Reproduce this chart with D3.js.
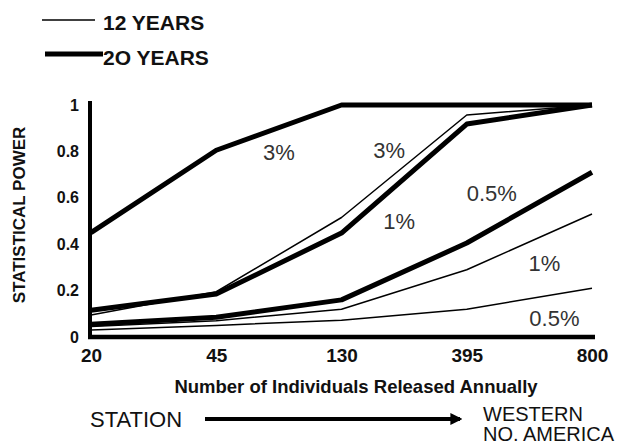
<!DOCTYPE html>
<html>
<head>
<meta charset="utf-8">
<script src="https://cdn.jsdelivr.net/npm/d3@7"></script>
<style>
	body{margin:0;background:#fff;}
	svg{display:block;font-family:"Liberation Sans", Arial, sans-serif;}
	.tick-x text{font-size:19px;font-weight:bold;fill:#111;}
	.tick-y text{font-size:16px;font-weight:bold;fill:#111;}
	.pct{font-size:22px;fill:#333;}
</style>
</head>
<body>
<svg id="chart" width="634" height="445"></svg>
<script>
// released per year (categorical axis)
var categories = ['20', '45', '130', '395', '800'];
var yTicks = [0, 0.2, 0.4, 0.6, 0.8, 1];

// statistical power
var twenty3  = [0.45, 0.805, 1, 1, 1];
var twenty1  = [0.115, 0.185, 0.448, 0.918, 1];
var twenty05 = [0.055, 0.085, 0.16, 0.405, 0.71];
var twelve3  = [0.095, 0.195, 0.515, 0.957, 1];
var twelve1  = [0.045, 0.07, 0.12, 0.29, 0.53];
var twelve05 = [0.03, 0.05, 0.072, 0.12, 0.21];

var seriesList = [
	{name:'12y-3',  values: twelve3,  thick:false},
	{name:'12y-1',  values: twelve1,  thick:false},
	{name:'12y-05', values: twelve05, thick:false},
	{name:'20y-3',  values: twenty3,  thick:true},
	{name:'20y-1',  values: twenty1,  thick:true},
	{name:'20y-05', values: twenty05, thick:true}
];

// labels beside the curves: [category index, value, text]
var curveLabels = [
	[1.5, 0.795, '3%'],
	[2.38, 0.805, '3%'],
	[2.46, 0.5, '1%'],
	[3.2, 0.62, '0.5%'],
	[3.62, 0.32, '1%'],
	[3.7, 0.08, '0.5%']
];

var svg = d3.select('#chart');
var x = d3.scalePoint().domain(categories).range([91, 592]);
var y = d3.scaleLinear().domain([0, 1]).range([337, 105]);

// x tick labels
var gx = svg.append('g')
	.attr('class', 'tick-x')
	.attr('transform', 'translate(0,337)')
	.call(d3.axisBottom(x).tickSize(0).tickPadding(12));
gx.select('.domain').remove();

// y tick labels
var gy = svg.append('g')
	.attr('class', 'tick-y')
	.attr('transform', 'translate(90,0)')
	.call(d3.axisLeft(y).tickValues(yTicks).tickFormat(d3.format('~g')).tickSize(0).tickPadding(11));
gy.select('.domain').remove();

// curves
var line = d3.line()
	.x(function(d, i){ return x(categories[i]); })
	.y(function(d){ return y(d); });

svg.selectAll('.curve')
	.data(seriesList)
	.enter()
	.append('path')
	.attr('class', 'curve')
	.attr('d', function(d){ return line(d.values); })
	.attr('fill', 'none')
	.attr('stroke', '#000')
	.attr('stroke-linejoin', 'round')
	.attr('stroke-width', function(d){ return d.thick ? 5 : 1.5; });

// axis lines
svg.append('line')
	.attr('x1', 90).attr('x2', 90)
	.attr('y1', y(1) - 4).attr('y2', y(0) + 2)
	.attr('stroke', '#000').attr('stroke-width', 4);
svg.append('line')
	.attr('x1', 88).attr('x2', x('800') + 3)
	.attr('y1', y(0)).attr('y2', y(0))
	.attr('stroke', '#000').attr('stroke-width', 4.5);

// curve labels
var xIdx = d3.scaleLinear().domain([0, categories.length - 1]).range(x.range());
svg.selectAll('.pct')
	.data(curveLabels)
	.enter()
	.append('text')
	.attr('class', 'pct')
	.attr('x', function(d){ return xIdx(d[0]); })
	.attr('y', function(d){ return y(d[1]); })
	.attr('text-anchor', 'middle')
	.attr('dy', '0.36em')
	.text(function(d){ return d[2]; });

// legend
svg.append('line')
	.attr('x1', 42).attr('x2', 95).attr('y1', 20).attr('y2', 20)
	.attr('stroke', '#000').attr('stroke-width', 1.5);
svg.append('text')
	.attr('x', 103).attr('y', 30)
	.style('font-size', '21px').style('font-weight', 'bold').attr('fill', '#111')
	.text('12 YEARS');
svg.append('line')
	.attr('x1', 45).attr('x2', 103).attr('y1', 54).attr('y2', 54)
	.attr('stroke', '#000').attr('stroke-width', 5);
svg.append('text')
	.attr('x', 103).attr('y', 65)
	.style('font-size', '21px').style('font-weight', 'bold').attr('fill', '#111')
	.text('2O YEARS');

// axis titles
svg.append('text')
	.attr('transform', 'translate(25,215) rotate(-90)')
	.attr('text-anchor', 'middle')
	.style('font-size', '17px').style('font-weight', 'bold').attr('fill', '#111')
	.text('STATISTICAL POWER');
svg.append('text')
	.attr('x', 356).attr('y', 393)
	.attr('text-anchor', 'middle')
	.style('font-size', '18.5px').style('font-weight', 'bold').attr('fill', '#111')
	.text('Number of Individuals Released Annually');

// station -> western arrow
svg.append('text')
	.attr('x', 90).attr('y', 427)
	.style('font-size', '22px').attr('fill', '#111')
	.text('STATION');
svg.append('defs').append('marker')
	.attr('id', 'head')
	.attr('viewBox', '0 0 10 10')
	.attr('refX', 8).attr('refY', 5)
	.attr('markerWidth', 3).attr('markerHeight', 3.4)
	.attr('orient', 'auto')
	.append('path')
	.attr('d', 'M0,0L10,5L0,10z')
	.attr('fill', '#000');
svg.append('line')
	.attr('x1', 205).attr('x2', 460).attr('y1', 419).attr('y2', 419)
	.attr('stroke', '#000').attr('stroke-width', 4)
	.attr('marker-end', 'url(#head)');
svg.append('text')
	.attr('x', 483).attr('y', 421)
	.style('font-size', '20px').attr('fill', '#111')
	.text('WESTERN');
svg.append('text')
	.attr('x', 483).attr('y', 441)
	.style('font-size', '20px').attr('fill', '#111')
	.text('NO. AMERICA');
</script>
</body>
</html>
